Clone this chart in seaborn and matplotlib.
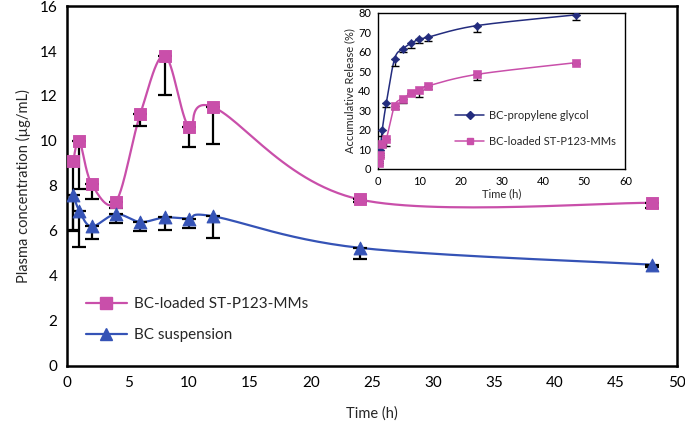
import matplotlib
matplotlib.use("Agg")
import matplotlib.pyplot as plt
from matplotlib.lines import Line2D
import seaborn as sns
import numpy as np
import pandas as pd

# main chart: plasma concentration
t_main = [0.5, 1, 2, 4, 6, 8, 10, 12, 24, 48]
mm_conc = [9.1, 10.0, 8.1, 7.3, 11.2, 13.8, 10.6, 11.5, 7.4, 7.25]
mm_low = [3.1, 2.15, 0.7, 0.3, 0.55, 1.75, 0.85, 1.65, 0.1, 0.25]
susp_conc = [7.6, 6.9, 6.2, 6.75, 6.4, 6.6, 6.55, 6.65, 5.25, 4.5]
susp_low = [1.55, 1.6, 0.55, 0.4, 0.4, 0.55, 0.4, 0.95, 0.5, 0.1]

# inset: in vitro release
t_rel = [0.25, 0.5, 1, 2, 4, 6, 8, 10, 12, 24, 48]
pg_rel = [4, 9.7, 20, 34, 56.5, 61.5, 64.5, 66.5, 67.5, 73.5, 79]
pg_low = [1, 1.5, 3, 2, 3.5, 1.5, 2.5, 2, 2, 3.5, 2.5]
mm_rel = [3, 7, 13, 15.5, 32.5, 36, 39, 40.5, 42.5, 48.5, 54.5]
mm_rel_low = [1, 1, 1.5, 3.7, 1.5, 2, 1, 3.5, 1.5, 3, 0.5]

PINK = "#C94FAA"
BLUE = "#3553B6"
NAVY = "#232C7E"


def smooth(x, y, sx, sy, n=30):
    # excel-like smoothed line (catmull-rom in screen-ish units)
    pts = np.column_stack([np.asarray(x, float) * sx, np.asarray(y, float) * sy])
    p = np.vstack([pts[0], pts, pts[-1]])
    out = []
    t = np.linspace(0, 1, n)[:, None]
    for i in range(1, len(p) - 2):
        p0, p1, p2, p3 = p[i - 1], p[i], p[i + 1], p[i + 2]
        c1 = p1 + (p2 - p0) / 6
        c2 = p2 - (p3 - p1) / 6
        seg = (1 - t) ** 3 * p1 + 3 * (1 - t) ** 2 * t * c1 + 3 * (1 - t) * t ** 2 * c2 + t ** 3 * p2
        out.append(seg)
    out = np.vstack(out)
    return out[:, 0] / sx, out[:, 1] / sy


sns.set_style("white")
plt.rcParams["font.family"] = ["Lato", "DejaVu Sans"]

fig = plt.figure(figsize=(6.85, 4.3), dpi=100)
ax = fig.add_axes([0.098, 0.149, 0.89, 0.837])

df_mm = pd.DataFrame({"t": t_main, "c": mm_conc})
df_su = pd.DataFrame({"t": t_main, "c": susp_conc})

# lines
xs, ys = smooth(t_main, mm_conc, 610 / 50, 360 / 16)
ax.plot(xs, ys, color=PINK, lw=1.6, zorder=2)
xs, ys = smooth(t_main, susp_conc, 610 / 50, 360 / 16)
ax.plot(xs, ys, color=BLUE, lw=1.6, zorder=2)

# error bars (lower only)
ax.errorbar(t_main, mm_conc, yerr=[mm_low, [0] * len(mm_low)], fmt="none",
            ecolor="black", elinewidth=1.6, capsize=5, capthick=1.6, zorder=3)
ax.errorbar(t_main, susp_conc, yerr=[susp_low, [0] * len(susp_low)], fmt="none",
            ecolor="black", elinewidth=1.6, capsize=5, capthick=1.6, zorder=3)

sns.scatterplot(data=df_mm, x="t", y="c", marker="s", s=68, color=PINK,
                edgecolor=PINK, ax=ax, zorder=4)
sns.scatterplot(data=df_su, x="t", y="c", marker="^", s=85, color=BLUE,
                edgecolor=BLUE, ax=ax, zorder=4)

ax.set_xlim(0, 50)
ax.set_ylim(0, 16)
ax.set_xticks(range(0, 51, 5))
ax.set_yticks(range(0, 17, 2))
ax.tick_params(direction="in", length=5, width=1, labelsize=11, pad=7, colors="black")
for sp in ax.spines.values():
    sp.set_color("black")
    sp.set_linewidth(1.8)
ax.set_xlabel("Time (h)", fontsize=10.5, labelpad=12)
ax.set_ylabel("Plasma concentration (µg/mL)", fontsize=10.5, labelpad=6)

handles = [
    Line2D([], [], color=PINK, lw=1.6, marker="s", markersize=8),
    Line2D([], [], color=BLUE, lw=1.6, marker="^", markersize=9),
]
ax.legend(handles, ["BC-loaded ST-P123-MMs", "BC suspension"], loc="upper left",
          bbox_to_anchor=(0.008, 0.23), frameon=False, fontsize=11,
          handlelength=2.7, handletextpad=0.45, labelspacing=1.15)

# inset
ins = fig.add_axes([0.552, 0.607, 0.361, 0.363])
xs, ys = smooth(t_rel, pg_rel, 247 / 60, 156 / 80)
ins.plot(xs, ys, color=NAVY, lw=1.1, zorder=2)
xs, ys = smooth(t_rel, mm_rel, 247 / 60, 156 / 80)
ins.plot(xs, ys, color=PINK, lw=1.1, zorder=2)
ins.errorbar(t_rel, pg_rel, yerr=[pg_low, [0] * len(pg_low)], fmt="none",
             ecolor="black", elinewidth=1, capsize=3, capthick=1, zorder=3)
ins.errorbar(t_rel, mm_rel, yerr=[mm_rel_low, [0] * len(mm_rel_low)], fmt="none",
             ecolor="black", elinewidth=1, capsize=3, capthick=1, zorder=3)
sns.scatterplot(x=t_rel, y=pg_rel, marker="D", s=18, color=NAVY, edgecolor=NAVY,
                ax=ins, zorder=4)
sns.scatterplot(x=t_rel, y=mm_rel, marker="s", s=30, color=PINK, edgecolor=PINK,
                ax=ins, zorder=4)
ins.set_xlim(0, 60)
ins.set_ylim(0, 80)
ins.set_xticks(range(0, 61, 10))
ins.set_yticks(range(0, 81, 10))
ins.tick_params(direction="out", length=3, width=0.8, labelsize=8, pad=2, colors="black")
for sp in ins.spines.values():
    sp.set_color("black")
    sp.set_linewidth(1.0)
ins.set_xlabel("Time (h)", fontsize=8, labelpad=1)
ins.set_ylabel("Accumulative Release (%)", fontsize=8, labelpad=2)
ih = [
    Line2D([], [], color=NAVY, lw=1.1, marker="D", markersize=4),
    Line2D([], [], color=PINK, lw=1.1, marker="s", markersize=5),
]
ins.legend(ih, ["BC-propylene glycol", "BC-loaded ST-P123-MMs"], loc="lower right",
           bbox_to_anchor=(1.0, 0.08), frameon=False, fontsize=8,
           handlelength=2.6, handletextpad=0.4, labelspacing=1.3)

fig.savefig("out.png", dpi=100)
